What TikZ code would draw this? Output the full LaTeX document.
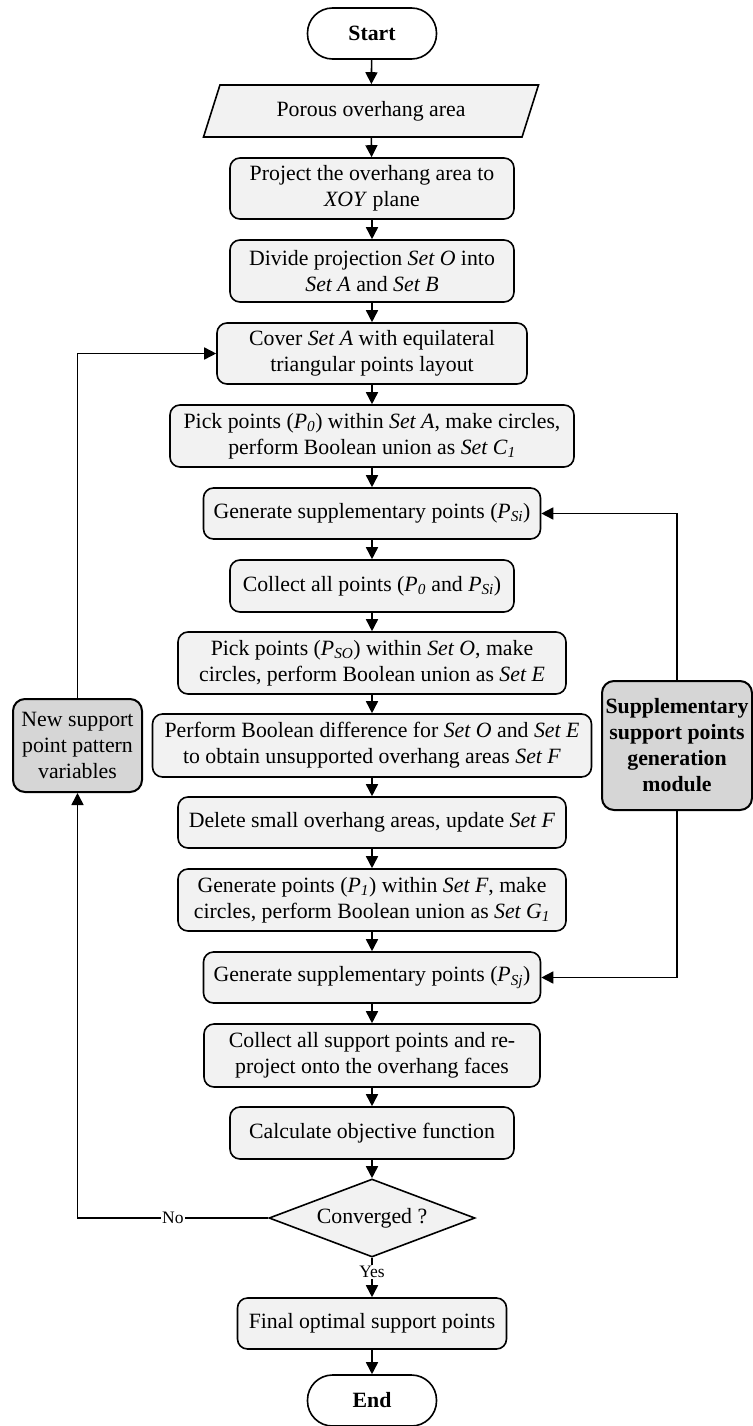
\documentclass[tikz,border=0pt]{standalone}
\usepackage{fontspec}
\setmainfont{Liberation Serif}
\usetikzlibrary{arrows.meta,shapes.geometric}
\newcommand{\mainsz}{\fontsize{21.8}{26}\selectfont}
\newcommand{\lblsz}{\fontsize{17.5}{20}\selectfont}
\newcommand{\vP}[1]{\textit{P}\textsubscript{\textit{#1}}}
\begin{document}
\begin{tikzpicture}[x=1pt,y=-1pt,
  base/.style={draw, line width=1.6pt, fill=black!5, align=center, inner sep=0pt, font=\mainsz},
  box/.style={base, rectangle, rounded corners=10pt},
  term/.style={base, rectangle, rounded corners=25pt, fill=white, font=\mainsz\bfseries, minimum width=129pt, minimum height=51pt},
  side/.style={base, rectangle, rounded corners=12pt, fill=black!16, line width=2pt},
  io/.style={base, trapezium, trapezium left angle=62.6, trapezium right angle=117.4, trapezium stretches=true},
  dec/.style={base, diamond, aspect=2.64},
  arr/.style={line width=1.6pt, -{Triangle[length=12pt,width=12pt]}},
  lbl/.style={fill=white, inner sep=1pt, font=\lblsz}
]
\useasboundingbox (0,0) rectangle (752,1426);
\node[term] (start) at (372,33.5) {Start};
\node[io, minimum width=336pt, minimum height=52pt] (input) at (371,111) {Porous overhang area};
\node[box, minimum width=284pt, minimum height=61pt] (proj) at (372,188.5) {Project the overhang area to\\\textit{XOY} plane};
\node[box, minimum width=284pt, minimum height=62pt] (divide) at (372,271) {Divide projection \textit{Set O} into\\\textit{Set A} and \textit{Set B}};
\node[box, minimum width=310pt, minimum height=61pt] (cover) at (372,353.5) {Cover \textit{Set A} with equilateral\\triangular points layout};
\node[box, minimum width=404pt, minimum height=62pt] (pickz) at (372,436) {Pick points (\vP{0}) within \textit{Set A}, make circles,\\perform Boolean union as \textit{Set C}\textsubscript{\textit{1}}};
\node[box, minimum width=337pt, minimum height=51pt] (gensi) at (372,513.5) {Generate supplementary points (\vP{Si})};
\node[box, minimum width=284pt, minimum height=52pt] (collect) at (372,586) {Collect all points (\vP{0} and \vP{Si})};
\node[box, minimum width=388pt, minimum height=62pt] (pickso) at (372,663) {Pick points (\vP{SO}) within \textit{Set O}, make\\circles, perform Boolean union as \textit{Set E}};
\node[box, minimum width=439pt, minimum height=63pt] (diff) at (372,745.5) {Perform Boolean difference for \textit{Set O} and \textit{Set E}\\to obtain unsupported overhang areas \textit{Set F}};
\node[box, minimum width=388pt, minimum height=51pt] (delete) at (372,822.5) {Delete small overhang areas, update \textit{Set F}};
\node[box, minimum width=388pt, minimum height=62pt] (genpo) at (372,900) {Generate points (\vP{1}) within \textit{Set F}, make\\circles, perform Boolean union as \textit{Set G}\textsubscript{\textit{1}}};
\node[box, minimum width=337pt, minimum height=51pt] (gensj) at (372,977.5) {Generate supplementary points (\vP{Sj})};
\node[box, minimum width=336pt, minimum height=63pt] (reproj) at (372,1055.5) {Collect all support points and re-\\project onto the overhang faces};
\node[box, minimum width=284pt, minimum height=52pt] (calc) at (372,1133) {Calculate objective function};
\node[dec, minimum width=206pt, minimum height=78pt] (conv) at (372,1218) {Converged ?};
\node[box, minimum width=269pt, minimum height=51pt] (final) at (372,1323.5) {Final optimal support points};
\node[term] (end) at (372,1400.5) {End};
\node[side, minimum width=129pt, minimum height=93pt] (newvar) at (77.5,745.5) {New support\\point pattern\\variables};
\node[side, font=\mainsz\bfseries, minimum width=150pt, minimum height=129pt] (suppmod) at (677,745.5) {Supplementary\\support points\\generation\\module};

\draw[arr] (start) -- (input);
\draw[arr] (input) -- (proj);
\draw[arr] (proj) -- (divide);
\draw[arr] (divide) -- (cover);
\draw[arr] (cover) -- (pickz);
\draw[arr] (pickz) -- (gensi);
\draw[arr] (gensi) -- (collect);
\draw[arr] (collect) -- (pickso);
\draw[arr] (pickso) -- (diff);
\draw[arr] (diff) -- (delete);
\draw[arr] (delete) -- (genpo);
\draw[arr] (genpo) -- (gensj);
\draw[arr] (gensj) -- (reproj);
\draw[arr] (reproj) -- (calc);
\draw[arr] (calc) -- (conv);
\draw[arr] (conv) -- node[lbl, pos=0.36]{Yes} (final);
\draw[arr] (final) -- (end);
\draw[arr] (conv.west) -- node[lbl, pos=0.5]{No} (conv.west -| newvar.south) -- (newvar.south);
\draw[arr] (newvar.north) |- (cover.west);
\draw[arr] (suppmod.north) |- (gensi.east);
\draw[arr] (suppmod.south) |- (gensj.east);
\end{tikzpicture}
\end{document}
